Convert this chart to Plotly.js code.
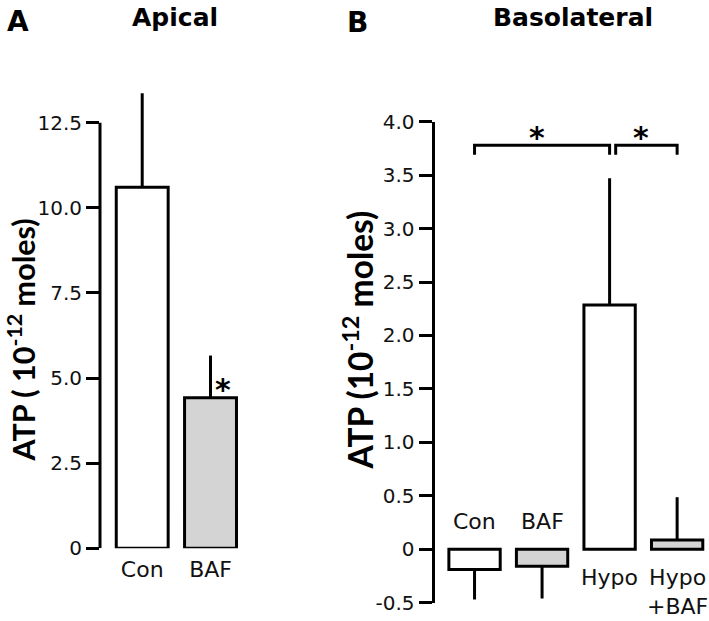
<!DOCTYPE html>
<html><head><meta charset="utf-8">
<script src="https://cdn.plot.ly/plotly-3.0.1.min.js"></script>
<style>html,body{margin:0;padding:0;background:#fff}</style>
</head><body><div id="chart" style="width:709px;height:621px"></div>
<script>
// ---------- DATA ----------
// Panel A: Apical
const apicalCategories = ["Con", "BAF"];
const apicalValues = [10.6, 4.42];
const apicalErrors = [2.76, 1.24];
const apicalTickVals = [0, 2.5, 5, 7.5, 10, 12.5];
const apicalTickText = ["0", "2.5", "5.0", "7.5", "10.0", "12.5"];
const apicalSignificant = ["BAF"];

// Panel B: Basolateral
const basoCategories = ["Con", "BAF", "Hypo", "Hypo+BAF"];
const basoValues = [-0.19, -0.16, 2.285, 0.087];
const basoErrors = [0.28, 0.30, 1.185, 0.40];
const basoTickVals = [-0.5, 0, 0.5, 1, 1.5, 2, 2.5, 3, 3.5, 4];
const basoTickText = ["-0.5", "0", "0.5", "1.0", "1.5", "2.0", "2.5", "3.0", "3.5", "4.0"];
const basoSignificantPairs = [["Con", "Hypo"], ["Hypo", "Hypo+BAF"]];

// ---------- STYLE ----------
const W = 709, H = 621;
const BLACK = "#000000";
const GRAY = "#d4d4d4";
const fillFor = c => c.indexOf("BAF") >= 0 ? GRAY : "#ffffff";
const tickFont = {family: "DejaVu Sans", size: 20, color: "#111"};
const catFont = {family: "DejaVu Sans", size: 22, color: "#111"};
const px = v => v / W;
const py = v => (H - v) / H;

function barTrace(cats, vals, errs, xa, ya) {
  return {
    type: "bar", x: cats, y: vals, xaxis: xa, yaxis: ya,
    marker: {color: cats.map(fillFor), line: {color: BLACK, width: 3}},
    error_y: {
      type: "data", symmetric: false,
      array: vals.map((v, i) => v >= 0 ? errs[i] : 0),
      arrayminus: vals.map((v, i) => v < 0 ? errs[i] : 0),
      color: BLACK, thickness: 3, width: 0
    },
    cliponaxis: false, hoverinfo: "skip"
  };
}

const data = [
  barTrace(apicalCategories, apicalValues, apicalErrors, "x", "y"),
  barTrace(basoCategories, basoValues, basoErrors, "x2", "y2")
];

const yCommon = {
  ticks: "outside", ticklen: 13, tickwidth: 3, tickcolor: BLACK,
  showline: true, linewidth: 3, linecolor: BLACK,
  showgrid: false, zeroline: false, tickfont: tickFont, fixedrange: true
};
const xCommon = {
  type: "category", showline: false, showgrid: false, zeroline: false,
  ticks: "", fixedrange: true
};

const annotations = [];
const shapes = [];
// panel letters & titles
annotations.push({xref: "paper", yref: "paper", x: px(18), y: py(21), text: "<b>A</b>", showarrow: false,
  font: {family: "DejaVu Sans", size: 28, color: BLACK}, xanchor: "center", yanchor: "middle"});
annotations.push({xref: "paper", yref: "paper", x: px(357.5), y: py(22.5), text: "<b>B</b>", showarrow: false,
  font: {family: "DejaVu Sans", size: 28, color: BLACK}, xanchor: "center", yanchor: "middle"});
annotations.push({xref: "paper", yref: "paper", x: px(175), y: py(17.6), text: "<b>Apical</b>", showarrow: false,
  font: {family: "DejaVu Sans", size: 25, color: BLACK}, xanchor: "center", yanchor: "middle"});
annotations.push({xref: "paper", yref: "paper", x: px(572.5), y: py(17.6), text: "<b>Basolateral</b>", showarrow: false,
  font: {family: "DejaVu Sans", size: 25, color: BLACK}, xanchor: "center", yanchor: "middle"});
// y axis titles
annotations.push({xref: "paper", yref: "paper", x: px(21), y: py(340.5), textangle: -90,
  text: "<b>ATP ( 10<sup>-12</sup> moles)</b>", showarrow: false,
  font: {family: "Lato", size: 30.5, color: BLACK}, xanchor: "center", yanchor: "middle"});
annotations.push({xref: "paper", yref: "paper", x: px(357), y: py(340.5), textangle: -90,
  text: "<b>ATP (10<sup>-12</sup> moles)</b>", showarrow: false,
  font: {family: "Lato", size: 33.5, color: BLACK}, xanchor: "center", yanchor: "middle"});

// Apical spine drawn only up to the top tick (error bar rises above it)
shapes.push({type: "line", xref: "x domain", yref: "y", x0: 0, x1: 0,
  y0: Math.min(...apicalTickVals), y1: Math.max(...apicalTickVals),
  line: {color: BLACK, width: 3}});

// Basolateral category labels (above zero for negative bars, below for positive)
basoCategories.forEach((c, i) => {
  const neg = basoValues[i] < 0;
  annotations.push({xref: "x2", yref: "y2", x: c, y: neg ? 0.258 : -0.125,
    text: c.replace("+", "<br>+"), showarrow: false, font: catFont,
    xanchor: "center", yanchor: neg ? "middle" : "top"});
});

// Apical significance star
apicalSignificant.forEach(c => {
  const i = apicalCategories.indexOf(c);
  annotations.push({xref: "x", yref: "y", x: i + 0.18, y: apicalValues[i] + 0.25,
    text: "<b>*</b>", showarrow: false, font: {family: "DejaVu Sans", size: 30, color: BLACK},
    xanchor: "center", yanchor: "middle"});
});

// Basolateral brackets
const basoTops = basoValues.map((v, i) => v + (v >= 0 ? basoErrors[i] : 0));
const bracketY = Math.max(...basoTops) + 0.31;
const dropY = bracketY - 0.09;
let prevEnd = null;
basoSignificantPairs.forEach(([a, b]) => {
  let x0 = basoCategories.indexOf(a), x1 = basoCategories.indexOf(b);
  if (prevEnd !== null && x0 === prevEnd) x0 += 0.09;
  prevEnd = x1;
  shapes.push({type: "path", xref: "x2", yref: "y2",
    path: `M ${x0} ${dropY} L ${x0} ${bracketY} L ${x1} ${bracketY} L ${x1} ${dropY}`,
    line: {color: BLACK, width: 3}});
  annotations.push({xref: "x2", yref: "y2", x: (x0 + x1) / 2 - 0.08, y: bracketY + 0.07,
    text: "<b>*</b>", showarrow: false, font: {family: "DejaVu Sans", size: 30, color: BLACK},
    xanchor: "center", yanchor: "middle"});
});

const layout = {
  width: W, height: H, margin: {l: 0, r: 0, t: 0, b: 0},
  paper_bgcolor: "#ffffff", plot_bgcolor: "rgba(0,0,0,0)",
  showlegend: false, bargap: 0.24, hovermode: false,
  xaxis: Object.assign({}, xCommon, {domain: [px(100), px(250)], range: [-0.618, 1.578],
    anchor: "y", tickfont: catFont, ticklabelstandoff: 6}),
  yaxis: Object.assign({}, yCommon, {domain: [py(548.3), py(88.6)], range: [0, 13.5],
    showline: false, tickvals: apicalTickVals, ticktext: apicalTickText, anchor: "x"}),
  xaxis2: Object.assign({}, xCommon, {domain: [px(434.5), 1], range: [-0.593, 3.472],
    anchor: "y2", showticklabels: false}),
  yaxis2: Object.assign({}, yCommon, {domain: [py(602.7), py(121.7)], range: [-0.5, 4.0],
    tickvals: basoTickVals, ticktext: basoTickText, anchor: "x2"}),
  annotations: annotations, shapes: shapes
};

Plotly.newPlot("chart", data, layout, {staticPlot: true, displayModeBar: false});
</script>
</body></html>
